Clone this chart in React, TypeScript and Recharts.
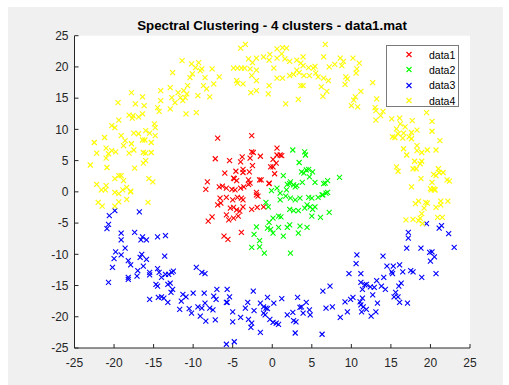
import { ScatterChart, Scatter, XAxis, YAxis, ReferenceArea, Legend } from "recharts";

const xTicks = [-25, -20, -15, -10, -5, 0, 5, 10, 15, 20, 25];
const yTicks = [-25, -20, -15, -10, -5, 0, 5, 10, 15, 20, 25];

// red cluster (center left)
const data1: [number, number][] = [
  [-6.9, 8.6], [-2.6, 9.0], [-7.2, 5.3], [-5.4, 5.0], [-3.8, 5.6], [-4.0, 4.8], [-2.6, 6.4], [-2.4, 6.3],
  [-2.8, 5.4], [-2.5, 4.2], [-1.5, 5.7], [0.6, 7.0], [0.6, 5.9], [1.0, 5.9], [1.2, 5.8], [0.1, 5.2],
  [-0.2, 4.0], [0.1, 4.0], [0.5, 4.6], [0.3, 2.9], [-3.7, 3.6], [-4.6, 3.3], [-3.7, 3.1], [-2.9, 3.2],
  [-6.0, 3.0], [-1.6, 1.9], [-1.4, 1.9], [-4.9, 2.2], [-4.5, 1.8], [-3.0, 1.9], [-2.8, 1.4], [-8.2, 1.6],
  [-8.4, 0.4], [-6.7, 0.8], [-6.3, 0.9], [-5.8, 0.6], [-5.1, 0.4], [-4.7, 0.3], [-4.0, 0.6], [-3.6, 0.8],
  [-2.0, -0.5], [-1.8, -0.7], [-0.4, 1.4], [-6.6, -1.0], [-6.9, -2.1], [-6.5, -1.8], [-5.8, -0.9], [-5.0, -1.3],
  [-4.4, -0.9], [-3.9, -1.0], [-3.7, -1.3], [-5.3, -2.6], [-4.9, -2.5], [-4.5, -2.9], [-4.1, -3.1], [-3.7, -2.4],
  [-2.6, -2.8], [-1.9, -2.5], [-1.1, -2.4], [-7.6, -4.0], [-8.1, -4.7], [-5.8, -3.7], [-5.5, -4.5], [-4.9, -4.2],
  [-4.3, -3.9], [-3.9, -6.5], [-6.1, -7.1], [-5.6, -7.6], [-3.0, 1.2], [-2.0, -0.1], [-0.4, 1.3], [-4.8, 2.1],
];

// green cluster (center right)
const data2: [number, number][] = [
  [2.6, 6.7], [4.1, 6.4], [4.2, 5.9], [3.4, 4.7], [4.3, 3.5], [4.6, 3.6], [5.1, 3.2], [4.0, 3.0],
  [3.7, 3.2], [1.4, 2.6], [4.7, 2.4], [5.4, 1.5], [7.0, 1.8], [6.7, 1.4], [8.5, 2.3], [3.8, 1.5],
  [2.9, 0.8], [2.3, 1.6], [2.2, 1.3], [2.7, 1.1], [1.8, 0.3], [-0.1, 0.2], [0.6, 0.6], [1.0, -0.2],
  [1.7, -0.7], [2.3, -1.0], [2.9, -1.3], [3.5, -1.0], [4.6, -0.9], [5.0, -1.0], [5.8, -0.9], [6.4, -0.5],
  [7.0, -0.1], [4.4, -2.1], [4.8, -2.4], [4.1, -2.6], [5.1, -2.8], [5.4, -2.4], [2.2, -2.8], [2.7, -3.0],
  [3.3, -3.0], [5.0, -3.9], [6.1, -4.1], [7.2, -3.3], [0.8, -3.9], [1.1, -4.0], [0.1, -4.2], [-0.4, -4.9],
  [-0.8, -1.7], [-0.5, -2.4], [1.0, -1.3], [-2.0, -5.6], [-2.3, -6.8], [-1.6, -7.8], [-2.6, -8.9], [-1.6, -8.8],
  [-0.6, -5.8], [-0.2, -6.0], [0.1, -6.6], [0.8, -5.7], [1.4, -7.1], [1.9, -5.7], [2.2, -5.3], [3.3, -6.6],
  [3.5, -5.5], [4.4, -5.7], [-1.0, -9.8], [2.3, -9.8], [6.8, -0.2], [6.3, -0.5], [1.9, 1.2], [3.1, 1.0], [6.5, 1.3],
];

// blue ring (lower half)
const data3: [number, number][] = [
  [-19.9, -3.0], [-20.6, -3.8], [-16.8, -3.2], [-20.7, -5.2], [-20.9, -5.9], [-19.1, -6.6], [-19.1, -7.7], [-17.4, -6.5],
  [-16.4, -7.2], [-16.6, -7.7], [-15.9, -7.7], [-14.5, -7.2], [-13.5, -7.0], [-18.6, -9.0], [-19.8, -9.6], [-19.1, -10.1],
  [-20.0, -10.7], [-18.2, -11.0], [-17.9, -11.7], [-16.5, -10.0], [-16.7, -10.5], [-15.9, -10.8], [-16.3, -11.9], [-17.0, -12.6],
  [-13.6, -10.3], [-20.2, -12.1], [-15.5, -12.9], [-15.5, -13.3], [-14.5, -12.3], [-14.3, -12.9], [-13.5, -13.2], [-13.1, -13.2],
  [-12.7, -12.9], [-12.5, -12.7], [-14.0, -13.7], [-17.1, -13.5], [-18.2, -13.7], [-18.2, -14.0], [-20.7, -14.5], [-14.7, -14.8],
  [-14.5, -15.1], [-12.9, -14.6], [-13.2, -14.8], [-12.6, -15.6], [-12.8, -16.1], [-15.5, -17.2], [-14.4, -16.9], [-14.0, -16.8],
  [-13.7, -17.0], [-13.2, -17.7], [-11.3, -16.4], [-10.9, -16.8], [-10.0, -16.2], [-8.6, -16.2], [-9.6, -12.1], [-8.9, -12.9],
  [-8.5, -13.1], [-11.5, -17.5], [-11.7, -18.8], [-10.5, -18.7], [-10.2, -19.4], [-9.4, -18.4], [-8.9, -18.6], [-8.5, -17.8],
  [-9.1, -19.9], [-8.4, -20.7],
  [-7.0, -15.6], [-5.7, -15.6], [-2.4, -15.9], [6.4, -15.9], [7.3, -15.1], [-7.4, -16.7], [-7.1, -17.2], [-5.4, -16.8],
  [-5.8, -17.7], [-5.7, -17.7], [-3.1, -17.7], [-0.6, -16.9], [1.2, -17.1], [3.2, -16.9], [4.3, -17.7], [-1.5, -17.8],
  [-1.1, -18.4], [-0.8, -18.6], [-0.6, -18.7], [0.2, -17.8], [-7.9, -18.6], [-7.5, -18.9], [-5.0, -19.2], [-3.4, -18.6],
  [-2.3, -19.0], [-4.0, -20.1], [-7.2, -20.5], [-5.0, -20.8], [-3.0, -20.4], [-2.6, -21.0], [-2.7, -21.7], [-1.1, -19.4],
  [-0.9, -19.7], [-0.3, -20.4], [0.1, -20.9], [0.5, -21.0], [0.8, -21.2], [1.9, -19.7], [2.6, -19.3], [2.7, -20.6],
  [3.0, -20.8], [3.5, -18.5], [3.7, -18.4], [3.9, -19.4], [4.7, -18.9], [4.8, -19.7], [6.8, -18.6], [7.6, -18.4],
  [-1.5, -22.5], [2.9, -22.6], [6.3, -22.8], [-5.8, -24.4], [-4.8, -24.0],
  [19.5, -5.1], [17.2, -6.5], [17.2, -7.4], [21.1, -5.8], [21.4, -5.4], [22.3, -6.7], [17.0, -9.0], [18.8, -9.0],
  [19.9, -9.7], [20.2, -9.6], [20.5, -10.4], [20.0, -11.1], [23.0, -8.9], [10.7, -10.1], [10.6, -11.5], [14.0, -10.3],
  [14.5, -11.9], [15.3, -11.9], [16.1, -11.7], [15.1, -12.8], [15.2, -13.1], [16.5, -12.8], [17.5, -12.6], [17.8, -12.8],
  [18.9, -13.7], [20.7, -13.1], [9.7, -13.1], [11.2, -13.1], [13.2, -14.2], [14.1, -13.7], [11.2, -14.5], [11.7, -14.9],
  [11.9, -14.8], [12.4, -15.2], [12.9, -15.3], [13.8, -15.1], [14.3, -15.6], [16.0, -15.1], [16.3, -14.6], [11.4, -15.6],
  [15.6, -16.1], [15.4, -16.8], [15.9, -16.8], [12.7, -16.5], [10.2, -16.9], [9.9, -17.2], [9.2, -17.6], [11.1, -17.6],
  [11.4, -17.0], [11.2, -18.1], [11.5, -18.4], [13.3, -17.8], [16.1, -17.7], [17.1, -17.8], [11.9, -18.8], [11.3, -19.2],
  [13.1, -19.2], [9.5, -19.2], [8.6, -20.1], [12.5, -19.9],
];

// yellow ring (upper half)
const data4: [number, number][] = [
  [-11.4, 21.0], [-10.2, 20.5], [-9.3, 20.7], [-9.7, 19.9], [-9.1, 19.4], [-10.1, 18.9], [-10.4, 18.3], [-12.6, 19.1],
  [-8.5, 18.3], [-8.7, 17.0], [-10.7, 17.0], [-12.9, 16.7], [-14.1, 16.2], [-11.9, 15.9], [-11.2, 16.2], [-10.8, 15.7],
  [-12.7, 15.1], [-11.6, 15.1], [-11.0, 15.1], [-9.4, 15.4], [-8.3, 16.5], [-12.3, 14.3], [-11.3, 14.6], [-14.1, 14.6],
  [-17.8, 15.9], [-16.4, 15.2], [-19.5, 14.3], [-17.3, 14.1], [-16.2, 13.8], [-14.5, 13.5], [-14.3, 12.9], [-12.9, 13.3],
  [-10.9, 12.5], [-9.6, 12.7], [-18.1, 12.3], [-17.6, 12.2], [-17.7, 11.8], [-16.9, 12.0], [-16.4, 12.5], [-19.4, 11.5],
  [-20.3, 10.6], [-19.9, 10.3], [-14.9, 10.9], [-14.8, 10.3], [-19.1, 9.0], [-17.5, 9.4], [-16.9, 9.3], [-16.0, 9.8],
  [-15.5, 9.4], [-14.8, 9.0], [-21.2, 8.7], [-18.6, 8.2], [-16.4, 8.3], [-16.1, 8.3], [-15.3, 7.9], [-22.5, 7.9],
  [-21.0, 7.0], [-20.3, 6.6], [-19.8, 6.4], [-20.7, 6.1], [-18.8, 7.4], [-17.8, 7.7], [-17.5, 6.7], [-18.1, 6.2],
  [-16.3, 6.3], [-16.0, 6.2], [-15.3, 6.3], [-22.2, 6.2], [-21.0, 5.4], [-16.0, 5.0], [-16.3, 4.6], [-23.0, 4.3],
  [-20.9, 3.9], [-17.4, 3.8], [-19.4, 2.6], [-19.1, 2.6], [-19.9, 2.1], [-18.8, 1.8], [-15.6, 2.1], [-15.1, 1.6],
  [-22.2, 1.2], [-21.0, 1.0], [-21.6, 0.3], [-21.1, 0.3], [-18.4, 0.7], [-18.9, 0.3], [-17.9, 0.1], [-19.9, -0.1],
  [-19.4, -0.3], [-17.9, 0.0], [-22.0, -1.7], [-21.5, -2.3], [-19.9, -2.3], [-19.4, -1.6], [-18.4, -1.2], [-15.7, -1.7],
  [-4.0, 23.0], [-3.4, 23.6], [0.6, 22.9], [1.3, 23.1], [1.8, 23.0], [6.7, 23.6], [-3.0, 21.3], [-2.5, 20.7],
  [-2.0, 21.4], [-1.1, 21.6], [-0.3, 22.0], [-0.4, 21.1], [0.6, 21.4], [1.2, 22.1], [1.6, 21.3], [2.2, 20.9],
  [3.1, 21.1], [3.9, 21.6], [3.6, 20.6], [6.5, 21.6], [-4.9, 19.8], [-4.4, 19.8], [-3.9, 19.8], [-3.5, 19.8],
  [-2.8, 19.7], [-2.0, 19.5], [0.2, 19.8], [3.1, 19.5], [3.9, 20.2], [4.6, 19.9], [5.4, 20.1], [5.2, 19.8],
  [7.2, 20.0], [7.9, 20.4], [-2.6, 18.6], [-2.0, 17.8], [-4.5, 17.8], [-4.4, 17.4], [-3.7, 17.3], [0.6, 18.2],
  [1.3, 18.2], [2.2, 18.6], [2.7, 18.8], [3.4, 19.1], [4.0, 18.6], [4.7, 18.6], [5.5, 19.0], [5.8, 18.4],
  [6.5, 18.2], [3.6, 17.0], [3.9, 17.0], [-0.4, 17.0], [7.1, 17.8], [6.2, 16.8], [6.9, 16.1], [6.4, 15.3],
  [-2.7, 15.9], [-2.0, 16.2], [-0.5, 15.7], [1.7, 14.1], [3.3, 14.8], [-8.9, 19.7], [-7.4, 17.3], [-7.9, 15.2],
  [-7.6, 19.7], [-6.7, 18.4],
  [8.6, 21.4], [10.2, 21.4], [11.0, 20.6], [9.0, 20.9], [8.8, 20.2], [10.7, 19.7], [10.6, 19.0], [9.3, 18.4],
  [9.5, 18.1], [9.2, 17.2], [12.7, 17.5], [11.2, 16.1], [10.5, 15.2], [10.3, 14.7], [10.0, 13.8], [10.8, 13.6],
  [13.2, 14.9], [13.0, 13.5], [13.1, 13.0], [14.0, 12.9], [13.7, 12.2], [13.1, 11.5], [15.1, 11.7], [16.1, 11.8],
  [16.2, 10.9], [16.8, 10.4], [17.7, 11.4], [19.5, 12.7], [20.2, 11.3], [15.7, 10.1], [15.9, 9.3], [16.6, 9.4],
  [17.6, 9.5], [18.3, 9.9], [20.2, 9.7], [15.2, 8.8], [15.5, 8.7], [16.5, 8.6], [17.3, 8.8], [17.6, 8.5],
  [21.2, 8.2], [18.3, 7.4], [18.3, 6.6], [18.9, 6.3], [19.6, 6.7], [20.7, 6.7], [16.6, 6.9], [17.0, 5.9],
  [18.0, 4.9], [18.9, 4.9], [18.7, 4.5], [15.7, 4.0], [15.9, 3.3], [17.8, 3.7], [18.2, 3.7], [21.0, 3.7],
  [21.1, 3.1], [20.4, 2.8], [20.7, 2.6], [21.6, 3.1], [18.8, 2.1], [20.2, 1.5], [22.1, 1.9], [22.4, 1.7],
  [17.6, 0.8], [20.0, 0.5], [20.4, 0.5], [20.6, 0.3],
  [20.1, 0.3], [20.5, 0.3], [18.1, -1.9], [18.5, -1.5], [19.4, -1.7], [19.6, -1.8], [21.3, -1.5], [21.3, -2.1],
  [22.2, -1.5], [20.7, -2.5], [19.2, -2.6], [18.9, -3.5], [20.9, -4.1], [21.5, -4.1], [17.8, -4.4], [16.9, -4.5],
  [18.5, -4.6], [18.7, -4.2], [19.0, -5.1],
];

const SERIES = [
  { name: "data1", color: "#ff0000", points: data1 },
  { name: "data2", color: "#00ff00", points: data2 },
  { name: "data3", color: "#0000ff", points: data3 },
  { name: "data4", color: "#ffff00", points: data4 },
];

const FONT = "'Liberation Sans', Arial, Helvetica, sans-serif";
const AXIS_COLOR = "#262626";

const cross = (color: string) => (props: any) => {
  const { cx, cy } = props;
  const r = 2.5;
  return (
    <g stroke={color} strokeWidth={1.1}>
      <line x1={cx - r} y1={cy - r} x2={cx + r} y2={cy + r} />
      <line x1={cx - r} y1={cy + r} x2={cx + r} y2={cy - r} />
    </g>
  );
};

const renderLegend = () => (
  <div
    style={{
      border: "1px solid #7a7a7a",
      background: "#fff",
      width: 73,
      height: 62,
      boxSizing: "border-box",
      paddingTop: 1,
      fontFamily: FONT,
      fontSize: 10.5,
      color: "#000",
    }}
  >
    {SERIES.map((s) => (
      <div key={s.name} style={{ display: "flex", alignItems: "center", height: 15.3 }}>
        <svg width={42} height={15} style={{ flex: "none" }}>
          <g stroke={s.color} strokeWidth={1.1}>
            <line x1={19.5} y1={5} x2={24.5} y2={10} />
            <line x1={19.5} y1={10} x2={24.5} y2={5} />
          </g>
        </svg>
        <span>{s.name}</span>
      </div>
    ))}
  </div>
);

export default function App() {
  return (
    <div
      style={{
        position: "absolute",
        left: 8,
        top: 7,
        width: 495,
        height: 378,
        background: "#f0f0f0",
      }}
    >
      <div
        style={{
          position: "absolute",
          left: 0,
          width: 528,
          top: 11,
          textAlign: "center",
          fontFamily: FONT,
          fontWeight: "bold",
          fontSize: 13.3,
          color: "#000",
        }}
      >
        Spectral Clustering - 4 clusters - data1.mat
      </div>
      <ScatterChart width={495} height={378} margin={{ top: 28.7, right: 33, bottom: 7, left: 0 }}>
        <ReferenceArea x1={-25} x2={25} y1={-25} y2={25} fill="#ffffff" fillOpacity={1} stroke="none" />
        <XAxis
          type="number"
          dataKey="x"
          domain={[-25, 25]}
          ticks={xTicks}
          interval={0}
          height={30}
          tickSize={-4}
          tickMargin={14}
          axisLine={{ stroke: AXIS_COLOR }}
          tickLine={{ stroke: AXIS_COLOR }}
          tick={{ fill: AXIS_COLOR, fontSize: 12, fontFamily: FONT }}
        />
        <YAxis
          type="number"
          dataKey="y"
          domain={[-25, 25]}
          ticks={yTicks}
          interval={0}
          width={66.5}
          tickSize={-4}
          tickMargin={10}
          axisLine={{ stroke: AXIS_COLOR }}
          tickLine={{ stroke: AXIS_COLOR }}
          tick={{ fill: AXIS_COLOR, fontSize: 12, fontFamily: FONT }}
        />
        {SERIES.map((s) => (
          <Scatter
            key={s.name}
            name={s.name}
            data={s.points.map(([x, y]) => ({ x, y }))}
            fill={s.color}
            shape={cross(s.color)}
            isAnimationActive={false}
          />
        ))}
        <Legend
          layout="vertical"
          align="center"
          verticalAlign="middle"
          content={renderLegend}
          wrapperStyle={{ position: "absolute", left: 378, top: 38, width: 73 }}
        />
      </ScatterChart>
    </div>
  );
}
